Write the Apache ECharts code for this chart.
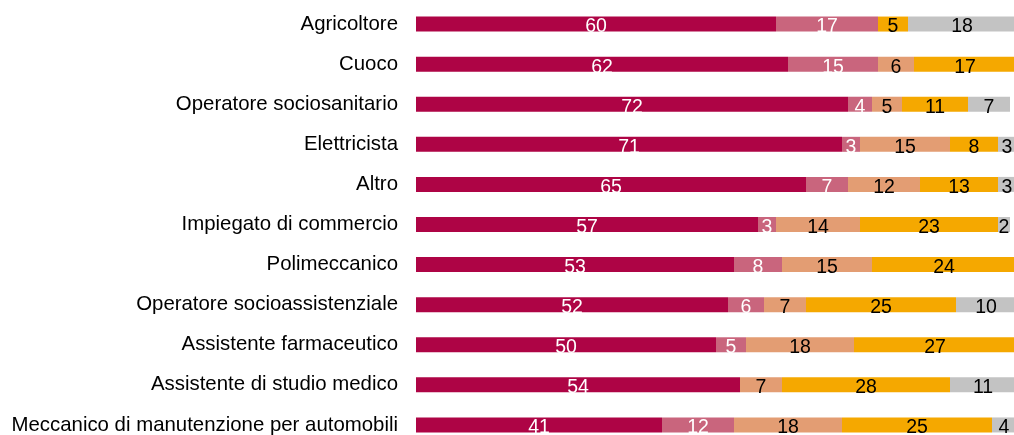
<!DOCTYPE html>
<html>
<head>
<meta charset="utf-8">
<script src="https://cdn.jsdelivr.net/npm/echarts@6/dist/echarts.min.js"></script>
<style>
html,body{margin:0;padding:0;background:#fff;}
#chart{width:1014px;height:435px;}
</style>
</head>
<body>
<div id="chart"></div>
<script>
const categories = [
  "Agricoltore",
  "Cuoco",
  "Operatore sociosanitario",
  "Elettricista",
  "Altro",
  "Impiegato di commercio",
  "Polimeccanico",
  "Operatore socioassistenziale",
  "Assistente farmaceutico",
  "Assistente di studio medico",
  "Meccanico di manutenzione per automobili"
];
const serie1 = [60, 62, 72, 71, 65, 57, 53, 52, 50, 54, 41];
const serie2 = [17, 15, 4, 3, 7, 3, 8, 6, 5, null, 12];
const serie3 = [null, 6, 5, 15, 12, 14, 15, 7, 18, 7, 18];
const serie4 = [5, 17, 11, 8, 13, 23, 24, 25, 27, 28, 25];
const serie5 = [18, null, 7, 3, 3, 2, null, 10, null, 11, 4];

const seriesData = [serie1, serie2, serie3, serie4, serie5];
const colors = ["#AE0445", "#C9657D", "#E39D73", "#F5A800", "#C3C3C3"];
const labelColors = ["#ffffff", "#ffffff", "#000000", "#000000", "#000000"];

const chart = echarts.init(document.getElementById('chart'));
chart.setOption({
  animation: false,
  grid: {left: 416, width: 600, top: 4, height: 441, containLabel: false, outerBoundsMode: 'none'},
  xAxis: {type: 'value', min: 0, max: 100, show: false},
  yAxis: {
    type: 'category', data: categories, inverse: true,
    axisLine: {show: false}, axisTick: {show: false},
    axisLabel: {color: '#000', fontFamily: 'Liberation Sans, Arial, sans-serif', fontSize: 20.4, margin: 18}
  },
  series: seriesData.map((d, i) => ({
    type: 'bar', stack: 'total', data: d, barWidth: 15,
    itemStyle: {color: colors[i]},
    label: {
      show: true, position: 'inside', color: labelColors[i],
      fontFamily: 'Liberation Sans, Arial, sans-serif', fontSize: 19.5,
      offset: [0, 3],
      formatter: p => (p.value == null ? '' : String(p.value))
    }
  }))
});
</script>
</body>
</html>
